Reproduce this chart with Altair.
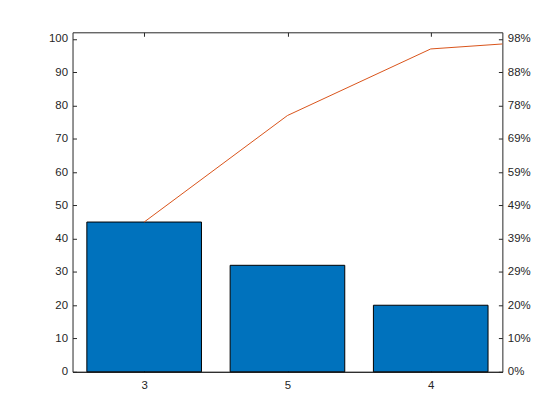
import altair as alt
import pandas as pd
import numpy as np

categories = ["3", "5", "4"]
counts = [45, 32, 20]
hidden_counts = [3, 2]          # categories beyond the displayed ones
y_ticks = [0, 10, 20, 30, 40, 50, 60, 70, 80, 90, 100]

all_counts = counts + hidden_counts
total = float(sum(all_counts))
cum = np.cumsum(all_counts)

W, H = 433, 342
XD = [0.5, 3.5]
YD = [0, total]
FONT = "Liberation Sans"
AX = "#262626"

bars = pd.DataFrame({
    "pos": np.arange(1, len(counts) + 1),
    "cat": categories,
    "count": counts,
})
bars["x0"] = bars["pos"] - 0.4
bars["x1"] = bars["pos"] + 0.4
bars["base"] = 0

line = pd.DataFrame({"pos": np.arange(1, len(counts) + 2), "cum": cum[: len(counts) + 1]})
ticks = pd.DataFrame({"v": y_ticks})

label_expr = "{'1':'3','2':'5','3':'4'}[datum.value] || ''"
pct_expr = "format(round(datum.value / %f * 100), 'd') + '%%'" % total

common = dict(labelFont=FONT, labelFontSize=11.5, labelColor=AX, domainColor=AX,
              tickColor=AX, title=None, grid=False, labelFlush=False, labelOverlap=False)

def xs():
    return alt.Scale(domain=XD, nice=False, zero=False)

def ys():
    return alt.Scale(domain=YD, nice=False, zero=False)

bar_layer = alt.Chart(bars).mark_bar(color="#0072BD", stroke="black", strokeWidth=1).encode(
    x=alt.X("x0:Q", scale=xs(),
            axis=alt.Axis(orient="bottom", values=[1, 2, 3], labelExpr=label_expr,
                          ticks=False, labelPadding=8, **common)),
    x2="x1:Q",
    y=alt.Y("count:Q", scale=ys(),
            axis=alt.Axis(orient="left", values=y_ticks, ticks=False, labelPadding=5, **common)),
    y2="base:Q",
)

line_layer = alt.Chart(line).mark_line(color="#D95319", strokeWidth=1, clip=True).encode(
    x=alt.X("pos:Q", scale=xs(),
            axis=alt.Axis(orient="top", values=[1, 2, 3], labels=False, domain=True,
                          ticks=True, tickSize=4, offset=-H, **common)),
    y=alt.Y("cum:Q", scale=ys(),
            axis=alt.Axis(orient="right", values=y_ticks, labelExpr=pct_expr, ticks=False,
                          labelPadding=5, **common)),
)

tick_layer1 = alt.Chart(ticks).mark_point(opacity=0).encode(
    x=alt.X("v:Q", scale=xs(),
            axis=alt.Axis(orient="bottom", values=[1, 2, 3], labels=False, domain=True,
                          ticks=True, tickSize=4, offset=-H, **common)),
    y=alt.Y("v:Q", scale=ys(),
            axis=alt.Axis(orient="right", values=y_ticks, labels=False, domain=False,
                          ticks=True, tickSize=4, offset=-W, **common)),
)

tick_layer2 = alt.Chart(ticks).mark_point(opacity=0).encode(
    y=alt.Y("v:Q", scale=ys(),
            axis=alt.Axis(orient="left", values=y_ticks, labels=False, domain=False,
                          ticks=True, tickSize=4, offset=-W, **common)),
)

chart = alt.layer(bar_layer, line_layer, tick_layer1, tick_layer2).resolve_scale(
    x="independent", y="independent"
).resolve_axis(x="independent", y="independent").properties(
    width=W, height=H,
    autosize=alt.AutoSizeParams(type="none"),
    padding={"left": 65, "top": 23, "right": 50, "bottom": 40},
).configure_view(stroke=None)

chart.save("out.html", embed_options={"renderer": "svg", "actions": False})
